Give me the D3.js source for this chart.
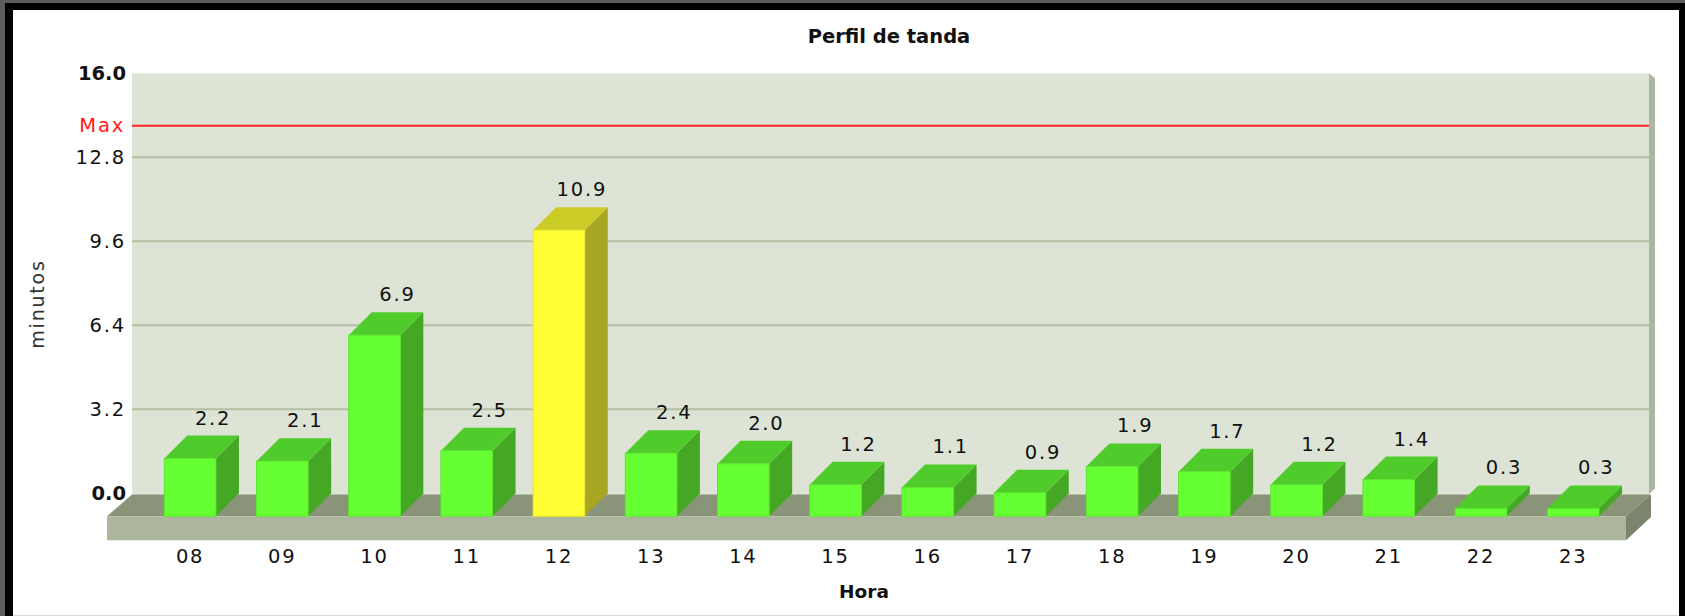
<!DOCTYPE html>
<html>
<head>
<meta charset="utf-8">
<script src="https://cdn.jsdelivr.net/npm/d3@7"></script>
<style>
  html, body { margin: 0; padding: 0; background: #ffffff; }
  svg { display: block; }
  text { font-family: "DejaVu Sans", Verdana, sans-serif; }
</style>
</head>
<body>
<svg id="chart" width="1685" height="616"></svg>
<script>
// Hourly airtime (minutes) per hour slot
const hours = ["08","09","10","11","12","13","14","15","16","17","18","19","20","21","22","23"];
const minutes = [2.2, 2.1, 6.9, 2.5, 10.9, 2.4, 2.0, 1.2, 1.1, 0.9, 1.9, 1.7, 1.2, 1.4, 0.3, 0.3];
const yTicks = [0, 3.2, 6.4, 9.6, 12.8, 16.0];
const maxLimit = 14.0;
const title = "Perfil de tanda";
const xTitle = "Hora";
const yTitle = "minutos";

const W = 1685, H = 616;
const svg = d3.select("#chart");

// ---- outer frame ----
svg.append("rect").attr("x", 0).attr("y", 0).attr("width", W).attr("height", H).attr("fill", "#5c5c5c");
svg.append("rect").attr("x", 5).attr("y", 3).attr("width", W - 5).attr("height", H - 3).attr("fill", "#000");
svg.append("rect").attr("x", 13).attr("y", 10).attr("width", 1666).attr("height", 605).attr("fill", "#fff");
svg.append("rect").attr("x", 13).attr("y", 615).attr("width", 1666).attr("height", 1).attr("fill", "#d8d8d8");

// ---- layout ----
const wallL = 132, wallR = 1649;
const D = 23;                    // 3D depth of the bars
const y = d3.scaleLinear().domain([0, 16]).range([493.3, 73.3]);
const yFront = v => y(v) + D;
const x = d3.scaleBand().domain(hours).range([164.3, 1599]).paddingInner(0.44).paddingOuter(0);
const bw = x.bandwidth();

// ---- back wall ----
svg.append("rect")
  .attr("x", wallL).attr("y", y(16))
  .attr("width", wallR - wallL).attr("height", y(0) + 1.5 - y(16))
  .attr("fill", "#dde3d5");
svg.append("polygon")
  .attr("points", [[wallR, y(16)], [wallR + 6, y(16) + 5], [wallR + 6, y(0) - 5], [wallR, y(0) + 1]].join(" "))
  .attr("fill", "#adb5a3");

// grid lines
svg.append("g").selectAll("line")
  .data(yTicks.filter(t => t > 0 && t < 16))
  .join("line")
  .attr("x1", wallL).attr("x2", wallR)
  .attr("y1", d => y(d)).attr("y2", d => y(d))
  .attr("stroke", "#b3bfa2").attr("stroke-width", 2);

// limit line
svg.append("line")
  .attr("x1", wallL).attr("x2", wallR)
  .attr("y1", y(maxLimit)).attr("y2", y(maxLimit))
  .attr("stroke", "#ff2424").attr("stroke-width", 2);

// ---- floor ----
const fTop = y(0) + 1.2, fFront = yFront(0), fBottom = fFront + 24;
const fL = 107, fR = 1626, fDx = wallR + 2 - fR;
svg.append("polygon")
  .attr("points", [[fL, fFront], [fL + fDx, fTop], [fR + fDx, fTop], [fR, fFront]].join(" "))
  .attr("fill", "#8a9479");
svg.append("rect")
  .attr("x", fL).attr("y", fFront).attr("width", fR - fL).attr("height", fBottom - fFront)
  .attr("fill", "#abb69c");
svg.append("polygon")
  .attr("points", [[fR, fFront], [fR + fDx, fTop], [fR + fDx, fTop + 22.5], [fR, fBottom]].join(" "))
  .attr("fill", "#7b846c");

// ---- bars ----
const peak = d3.max(minutes);
const palette = {
  normal: { front: "#66ff33", top: "#4fcc2b", side: "#45a825", edge: "#5be62e" },
  peak:   { front: "#ffff33", top: "#cccc29", side: "#a8a622", edge: "#e6e62e" }
};
const data = hours.map((h, i) => ({ h, v: minutes[i] }));
const bars = svg.append("g").selectAll("g").data(data).join("g");

bars.append("polygon") // side
  .attr("points", d => {
    const x0 = x(d.h) + bw, yt = yFront(d.v), yb = yFront(0);
    return [[x0, yt], [x0 + D, yt - D], [x0 + D, yb - D], [x0, yb]].join(" ");
  })
  .attr("fill", d => (d.v === peak ? palette.peak : palette.normal).side);
bars.append("polygon") // top
  .attr("points", d => {
    const x0 = x(d.h), yt = yFront(d.v);
    return [[x0, yt], [x0 + D, yt - D], [x0 + bw + D, yt - D], [x0 + bw, yt]].join(" ");
  })
  .attr("fill", d => (d.v === peak ? palette.peak : palette.normal).top);
bars.append("rect") // front
  .attr("x", d => x(d.h)).attr("y", d => yFront(d.v))
  .attr("width", bw).attr("height", d => yFront(0) - yFront(d.v))
  .attr("fill", d => (d.v === peak ? palette.peak : palette.normal).front)
  .attr("stroke", d => (d.v === peak ? palette.peak : palette.normal).edge)
  .attr("stroke-width", 1);

// value labels
bars.append("text")
  .attr("x", d => x(d.h) + bw / 2 + D)
  .attr("y", d => yFront(d.v) - D - 11)
  .attr("text-anchor", "middle")
  .attr("font-size", 19.5).attr("letter-spacing", 1.8)
  .attr("fill", "#111")
  .text(d => d3.format(".1f")(d.v));

// ---- y axis labels ----
const yAxis = d3.axisLeft(y).tickValues(yTicks).tickSize(0).tickPadding(0)
  .tickFormat(d3.format(".1f"));
const ya = svg.append("g").attr("transform", `translate(126,0)`).call(yAxis);
ya.select(".domain").remove();
ya.selectAll("text")
  .attr("font-family", "'DejaVu Sans', Verdana, sans-serif")
  .attr("font-size", 19.5)
  .attr("fill", "#111")
  .attr("font-weight", d => (d === 0 || d === 16 ? "bold" : "normal"))
  .attr("letter-spacing", d => (d === 0 || d === 16 ? 0 : 1.8));

svg.append("text")
  .attr("x", 125).attr("y", y(maxLimit)).attr("dy", "0.32em")
  .attr("text-anchor", "end")
  .attr("font-size", 19.5).attr("letter-spacing", 1.8)
  .attr("fill", "#ff1a1a")
  .text("Max");

// ---- x axis labels ----
const xAxis = d3.axisBottom(x).tickSize(0).tickPadding(0);
const xa = svg.append("g").attr("transform", `translate(0,549)`).call(xAxis);
xa.select(".domain").remove();
xa.selectAll("text")
  .attr("font-family", "'DejaVu Sans', Verdana, sans-serif")
  .attr("font-size", 19.5).attr("letter-spacing", 1.8)
  .attr("fill", "#111");

// ---- titles ----
svg.append("text")
  .attr("x", 889).attr("y", 42.5)
  .attr("text-anchor", "middle")
  .attr("font-size", 19.5).attr("font-weight", "bold").attr("fill", "#111")
  .text(title);

svg.append("text")
  .attr("x", 864).attr("y", 598)
  .attr("text-anchor", "middle")
  .attr("font-size", 18.5).attr("font-weight", "bold").attr("fill", "#111")
  .text(xTitle);

svg.append("text")
  .attr("transform", "translate(44,304) rotate(-90)")
  .attr("text-anchor", "middle")
  .attr("font-size", 19).attr("letter-spacing", 1.8)
  .attr("fill", "#333")
  .text(yTitle);
</script>
</body>
</html>
